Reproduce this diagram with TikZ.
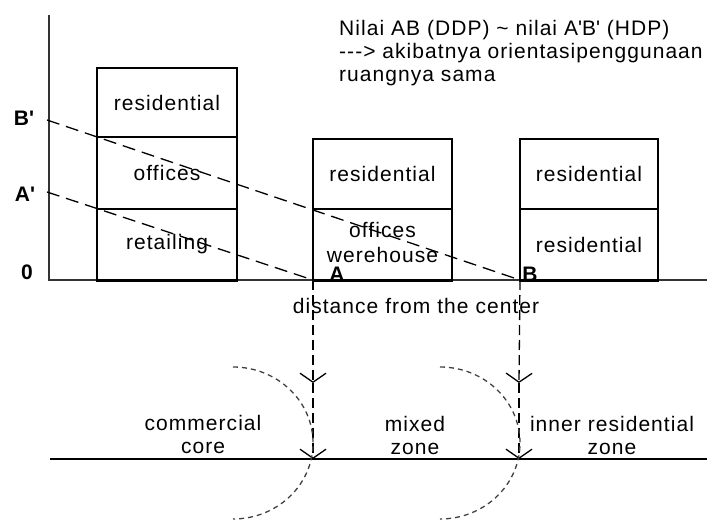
\documentclass[tikz,border=0pt]{standalone}
\usepackage{fontspec}
\setmainfont{Liberation Sans}[Ligatures=TeXOff, LetterSpace=5]
\usetikzlibrary{arrows.meta}

\tikzset{
  txt/.style={font=\fontsize{21}{23}\selectfont, inner sep=0pt, align=center},
  axlbl/.style={font=\fontsize{21}{23}\selectfont\bfseries, inner sep=0pt},
  floor/.style={draw, line width=1.3pt, inner sep=0pt, align=center,
                font=\fontsize{21}{25}\selectfont},
  axisline/.style={line width=1.3pt, draw=black!80},
  rentline/.style={line width=1.3pt, dash pattern=on 13pt off 7pt},
  dropline/.style={line width=1.3pt, dash pattern=on 10pt off 5pt,
                   -{Straight Barb[length=9pt, width=26pt, line width=1.3pt]}},
  zonearc/.style={line width=1.3pt, draw=black!75, dash pattern=on 5pt off 4pt}
}

\begin{document}
\begin{tikzpicture}[x=1pt, y=-1pt]
\useasboundingbox (0,0) rectangle (707,522);

% axes
\coordinate (ytop) at (49,15);
\coordinate (orig) at (49,280);
\coordinate (xend) at (707,280);
\draw[axisline] (ytop) -- (orig) -- (xend);

% axis labels
\node[axlbl] (lbB) at (24,118) {B\textquotesingle};
\node[axlbl] (lbA) at (25,194) {A\textquotesingle};
\node[axlbl] (lb0) at (27,272) {0};

% building 1 (centre)
\node[floor, minimum width=140pt, minimum height=69pt] (b1r) at (167,102.5) {residential};
\node[floor, minimum width=140pt, minimum height=72pt] (b1o) at (167,173) {offices};
\node[floor, minimum width=140pt, minimum height=71pt] (b1t) at (167,244.5) {retailing};

% building 2 (mixed)
\node[floor, minimum width=139pt, minimum height=70pt] (b2r) at (382.5,174) {residential};
\node[floor, minimum width=139pt, minimum height=71pt] (b2o) at (382.5,244.5) {};
\node[txt, font=\fontsize{21}{25}\selectfont] (b2t) at (382.5,242) {offices\\werehouse};

% building 3 (inner residential)
\node[floor, minimum width=138pt, minimum height=70pt] (b3r) at (589,174) {residential};
\node[floor, minimum width=138pt, minimum height=71pt] (b3s) at (589,244.5) {residential};

% heavier ground line under the buildings
\draw[line width=2pt] (b1t.south west) -- (b1t.south east);
\draw[line width=2pt] (b2o.south west) -- (b2o.south east);
\draw[line width=2pt] (b3s.south west) -- (b3s.south east);

% bid-rent lines
\coordinate (Bp) at (47,120);
\coordinate (Ap) at (47,192);
\coordinate (Ax) at (313,280);
\coordinate (Bx) at (520,280);
\draw[rentline] (Bp) -- (Bx);
\draw[rentline] (Ap) -- (Ax);

\node[axlbl] (lbAx) at (337,274) {A};
\node[axlbl] (lbBx) at (530,274) {B};

\node[txt] (dist) at (416,306) {distance from the center};

% note
\node[txt, align=left, anchor=north west] (note) at (339,20)
  {Nilai AB (DDP) \textasciitilde\ nilai A\textquotesingle B\textquotesingle\ (HDP)\\
   ---> akibatnya orientasipenggunaan\\
   ruangnya sama};

% zone boundary line
\coordinate (gl) at (50,459);
\coordinate (gr) at (707,459);
\draw[line width=1.3pt] (gl) -- (gr);

% projections of A and B onto the ground
\coordinate (Am) at (313,383);
\coordinate (Ag) at (313,459);
\coordinate (Bm) at (519,383);
\coordinate (Bg) at (519,459);
\draw[dropline] (Ax) -- (Am);
\draw[dropline] (Am) -- (Ag);
\draw[dropline] (Bx) -- (Bm);
\draw[dropline] (Bm) -- (Bg);

% zone boundary arcs
\coordinate (arcA) at (233,367);
\coordinate (arcB) at (440,367);
\draw[zonearc] (arcA) arc[start angle=-90, end angle=90, x radius=80, y radius=76];
\draw[zonearc] (arcB) arc[start angle=-90, end angle=90, x radius=80, y radius=76];

% zone names
\node[txt] (zc) at (203,434) {commercial\\core};
\node[txt] (zm) at (415,435) {mixed\\zone};
\node[txt] (zi) at (612,435) {inner residential\\zone};
\end{tikzpicture}
\end{document}
